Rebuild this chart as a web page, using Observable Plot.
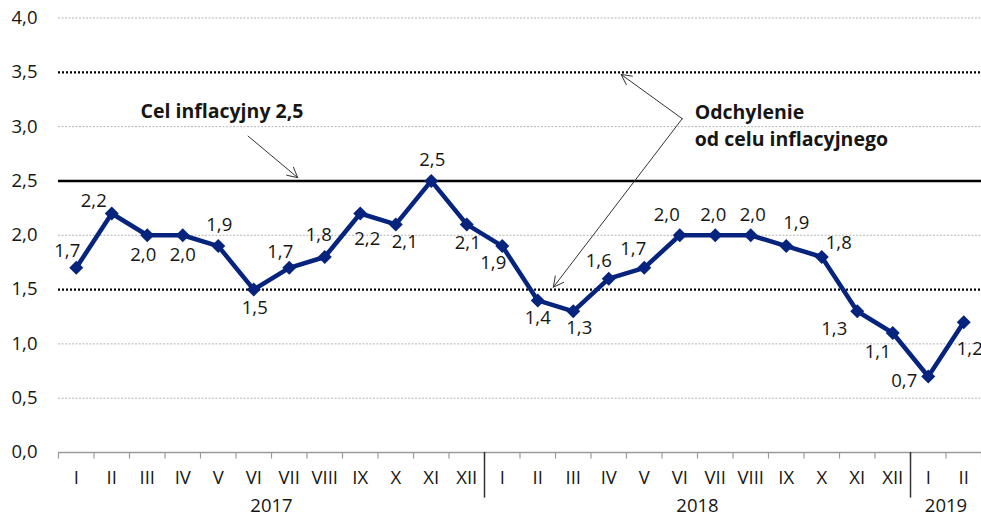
<!DOCTYPE html>
<html>
<head>
<meta charset="utf-8">
<script src="https://cdn.jsdelivr.net/npm/d3@7"></script>
<script src="https://cdn.jsdelivr.net/npm/@observablehq/plot@0.6"></script>
<style>
  html, body { margin: 0; padding: 0; background: #fff; }
  #chart svg { display: block; }
</style>
</head>
<body>
<div id="chart"></div>
<script>
// ---- data ----
const months = ["I","II","III","IV","V","VI","VII","VIII","IX","X","XI","XII",
                "I","II","III","IV","V","VI","VII","VIII","IX","X","XI","XII",
                "I","II"];
const years = ["2017","2018","2019"];
const yearMonthCounts = [12, 12, 2];
const inflation = [1.7, 2.2, 2.0, 2.0, 1.9, 1.5, 1.7, 1.8, 2.2, 2.1, 2.5, 2.1,
                   1.9, 1.4, 1.3, 1.6, 1.7, 2.0, 2.0, 2.0, 1.9, 1.8, 1.3, 1.1,
                   0.7, 1.2];
const yTicks = [0, 0.5, 1, 1.5, 2, 2.5, 3, 3.5, 4];
const gridValues = [0.5, 1, 2, 3, 4];
const target = 2.5;
const toleranceBand = [1.5, 3.5];
const targetLabel = "Cel inflacyjny 2,5";
const deviationLabel = "Odchylenie\nod celu inflacyjnego";

// label placement (pixel offsets from each point), style only
const labelOffsets = [
  [-9,-17],[-18,-12],[-4,20],[0,20],[1,-21],[1,19],[-9,-16],[-6,-22],[7,26],[9,18],[1,-21],[1,18.5],
  [-9,17],[0,18],[6,17],[-10,-18],[-11,-19],[-13,-20],[-2,-20],[2,-20],[10,-23],[17,-14],[-23,18],[-15,19],
  [-24,5],[6,27]
];

// ---- derived tables ----
const fmt = v => d3.format(".1f")(v).replace(".", ",");
const data = inflation.map((v, i) => ({i, v, label: fmt(v)}));
const monthRows = months.map((m, i) => ({i, m}));
const boundaries = d3.range(-0.5, months.length, 1);
let acc = 0;
const yearRows = years.map((y, k) => {
  const start = acc; acc += yearMonthCounts[k];
  return {y, center: (start + acc - 1) / 2, end: acc - 0.5};
});
const separators = yearRows.slice(0, -1).map(d => d.end);

const navy = "#06237d";
const textColor = "#161615";

const chart = Plot.plot({
  width: 981,
  height: 521,
  marginLeft: 58,
  marginRight: 0,
  marginTop: 17.5,
  marginBottom: 69,
  style: {fontFamily: "'Open Sans', sans-serif", fontSize: "18.5px", color: textColor, background: "#fff"},
  x: {domain: [-0.5, months.length - 0.5], axis: null},
  y: {domain: [0, 4], ticks: yTicks, tickFormat: fmt, tickSize: 0, tickPadding: 21, label: null},
  marks: [
    // grid
    Plot.ruleY(gridValues, {stroke: "#b5b5b5", strokeWidth: 1, strokeDasharray: "2,1.5"}),
    // tolerance band lines
    Plot.ruleY(toleranceBand, {stroke: "#000", strokeWidth: 2.2, strokeDasharray: "2,2"}),
    // target line
    Plot.ruleY([target], {stroke: "#000", strokeWidth: 2.5}),
    // x axis line and ticks
    Plot.ruleY([0], {stroke: "#9a9a9a", strokeWidth: 1.5}),
    Plot.ruleX(boundaries, {y1: 0, y2: -0.06, stroke: "#9a9a9a", strokeWidth: 1.2}),
    Plot.ruleX(separators, {y1: 0, y2: -0.42, stroke: "#333", strokeWidth: 1.5}),
    Plot.text(monthRows, {x: "i", y: () => 0, text: "m", dy: 25.5, fill: textColor, fontSize: 18.5}),
    Plot.text(yearRows, {x: "center", y: () => 0, text: "y", dy: 53.5, fill: textColor, fontSize: 18.5}),
    // annotations
    Plot.text([targetLabel], {x: () => 1.81, y: () => 3.135, text: d => d, textAnchor: "start",
      fontWeight: "bold", fontSize: 19.5, fill: textColor}),
    Plot.arrow([{x1: 4.84, y1: 2.913, x2: 6.24, y2: 2.53}],
      {x1: "x1", y1: "y1", x2: "x2", y2: "y2", stroke: "#333", strokeWidth: 1, headLength: 17, headAngle: 55}),
    Plot.text([deviationLabel], {x: () => 17.42, y: () => 3.149, text: d => d, textAnchor: "start",
      lineAnchor: "middle", lineHeight: 1.4, fontWeight: "bold", fontSize: 19.5, fill: textColor,
      dy: 13.5}),
    Plot.arrow([{x1: 17.07, y1: 3.073, x2: 15.35, y2: 3.48}, {x1: 17.07, y1: 3.073, x2: 13.44, y2: 1.522}],
      {x1: "x1", y1: "y1", x2: "x2", y2: "y2", stroke: "#333", strokeWidth: 1, headLength: 17, headAngle: 55}),
    // series
    Plot.line(data, {x: "i", y: "v", stroke: navy, strokeWidth: 4.5, strokeLinejoin: "miter"}),
    Plot.dot(data, {x: "i", y: "v", symbol: "diamond2", r: 6.3, fill: navy, stroke: null}),
    ...data.map((d, k) => Plot.text([d], {x: "i", y: "v", text: "label", fill: textColor, fontSize: 18.5,
      dx: labelOffsets[k][0], dy: labelOffsets[k][1]}))
  ]
});
document.getElementById("chart").appendChild(chart);
</script>
</body>
</html>
